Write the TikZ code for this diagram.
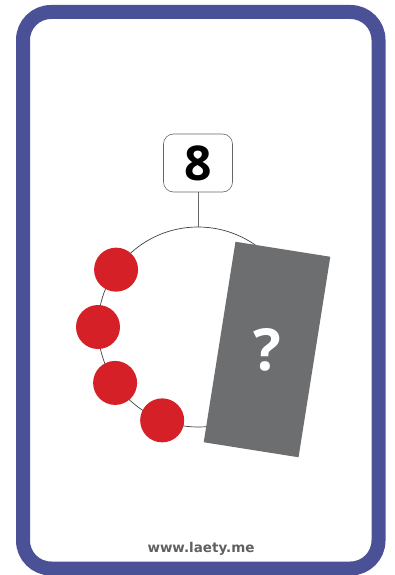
\documentclass[tikz,border=0pt]{standalone}
\usepackage{fontspec}
\setmainfont{Open Sans}
\newfontfamily\sitefont{DejaVu Sans}
\definecolor{frameblue}{RGB}{74,81,150}
\definecolor{beadred}{RGB}{213,32,40}
\definecolor{cardgrey}{RGB}{109,110,112}
\definecolor{sitegrey}{RGB}{96,96,96}
\begin{document}
\begin{tikzpicture}[x=1pt, y=-1pt,
        frame/.style={draw=frameblue, line width=14pt, rounded corners=28pt},
        numbox/.style={draw=black!60, line width=0.6pt, rounded corners=10pt, minimum width=69pt, minimum height=58pt, inner sep=0pt, font=\bfseries\fontsize{48}{48}\selectfont},
        ring/.style={circle, draw=black!75, line width=0.7pt, minimum size=200pt, inner sep=0pt, outer sep=0pt},
        bead/.style={circle, fill=beadred, minimum size=44pt, inner sep=0pt},
        card/.style={fill=cardgrey, minimum width=96pt, minimum height=203pt, inner sep=0pt}]
        \useasboundingbox (0,0) rectangle (394,575);
        % card frame
        \draw[frame] (23,12) rectangle (378.5,568.5);

        % ring with the beads
        \node[ring] (ring) at (198,327) {};
        \node[numbox] (num) at (198,163) {8};
        \draw[black!60, line width=0.8pt] (num.south) -- (ring.north);
        \foreach \a [count=\i] in {145,180,214,249}
            \node[bead] (b\i) at (ring.\a) {};

        % hidden part
        \node[card, rotate=-9] (hidden) at (267,349.5) {};
        \node[text=white, font=\bfseries\fontsize{58}{58}\selectfont] (q) at (hidden.center) {?};

        \node[text=sitegrey, font=\sitefont\bfseries\fontsize{13.5}{13.5}\selectfont] (site) at (201,549) {www.laety.me};
    \end{tikzpicture}
\end{document}
